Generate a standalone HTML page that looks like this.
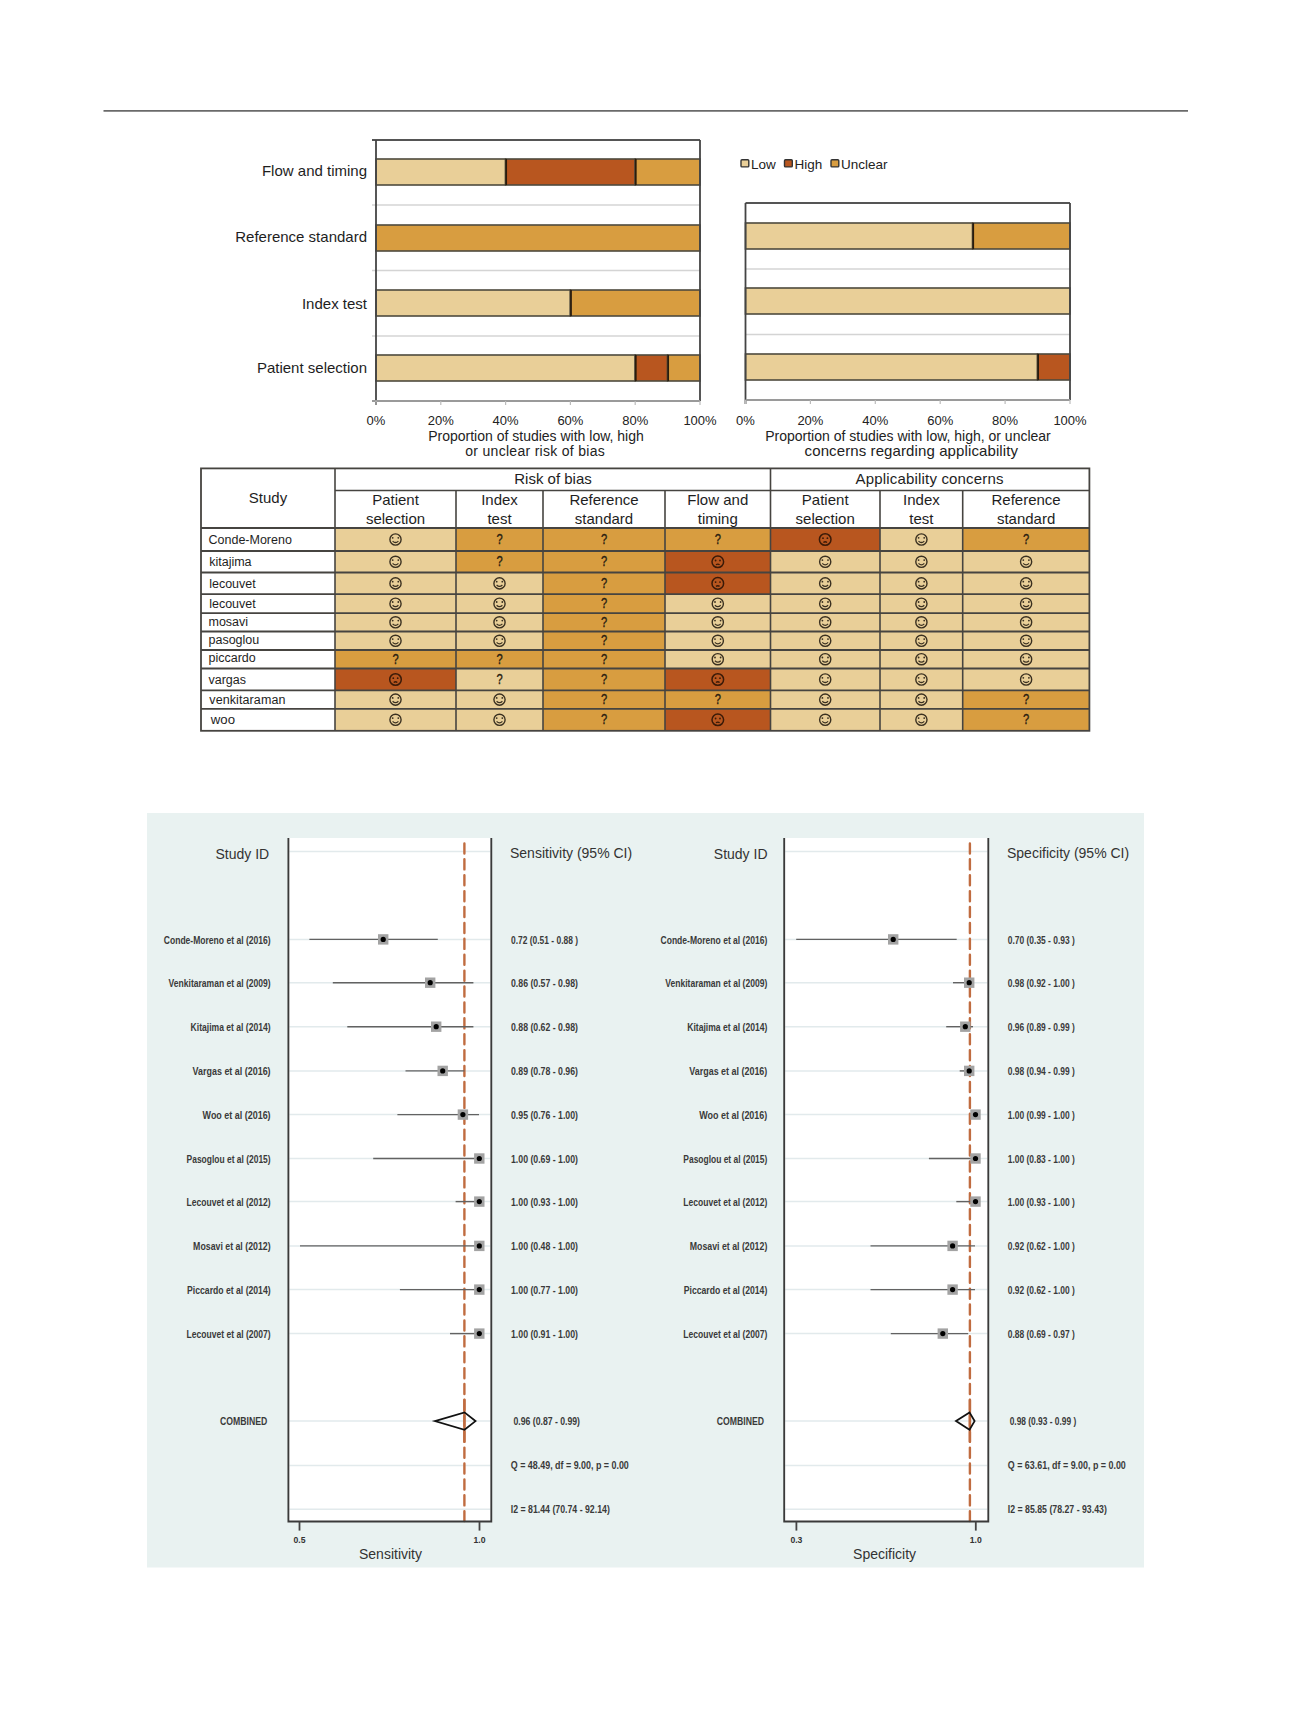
<!DOCTYPE html><html><head><meta charset="utf-8"><style>html,body{margin:0;padding:0;background:#fff;}svg{display:block}</style></head><body>
<svg width="1300" height="1734" viewBox="0 0 1300 1734" font-family="Liberation Sans, sans-serif">
<line x1="103.5" y1="110.9" x2="1188" y2="110.9" stroke="#6a6a6a" stroke-width="1.9"/>
<line x1="372" y1="205" x2="700" y2="205" stroke="#d4d4d4" stroke-width="1.6"/>
<line x1="372" y1="270.5" x2="700" y2="270.5" stroke="#d4d4d4" stroke-width="1.6"/>
<line x1="372" y1="336" x2="700" y2="336" stroke="#d4d4d4" stroke-width="1.6"/>
<rect x="376.00" y="159" width="129.60" height="26" fill="#e9cf98" stroke="#4e4a3e" stroke-width="1.6"/>
<rect x="505.60" y="159" width="129.60" height="26" fill="#b8561f" stroke="#4e4a3e" stroke-width="1.6"/>
<rect x="635.20" y="159" width="64.80" height="26" fill="#d89d40" stroke="#4e4a3e" stroke-width="1.6"/>
<line x1="506.20" y1="159" x2="506.20" y2="185" stroke="#2a1c0c" stroke-width="1.7"/>
<line x1="635.80" y1="159" x2="635.80" y2="185" stroke="#2a1c0c" stroke-width="1.7"/>
<rect x="376.00" y="225" width="324.00" height="26" fill="#d89d40" stroke="#4e4a3e" stroke-width="1.6"/>
<rect x="376.00" y="290" width="194.40" height="26" fill="#e9cf98" stroke="#4e4a3e" stroke-width="1.6"/>
<rect x="570.40" y="290" width="129.60" height="26" fill="#d89d40" stroke="#4e4a3e" stroke-width="1.6"/>
<line x1="571.00" y1="290" x2="571.00" y2="316" stroke="#2a1c0c" stroke-width="1.7"/>
<rect x="376.00" y="355" width="259.20" height="26" fill="#e9cf98" stroke="#4e4a3e" stroke-width="1.6"/>
<rect x="635.20" y="355" width="32.40" height="26" fill="#b8561f" stroke="#4e4a3e" stroke-width="1.6"/>
<rect x="667.60" y="355" width="32.40" height="26" fill="#d89d40" stroke="#4e4a3e" stroke-width="1.6"/>
<line x1="635.80" y1="355" x2="635.80" y2="381" stroke="#2a1c0c" stroke-width="1.7"/>
<line x1="668.20" y1="355" x2="668.20" y2="381" stroke="#2a1c0c" stroke-width="1.7"/>
<line x1="372" y1="140" x2="700" y2="140" stroke="#555" stroke-width="1.8"/>
<line x1="376" y1="140" x2="376" y2="405" stroke="#444" stroke-width="1.8"/>
<line x1="700" y1="140" x2="700" y2="401" stroke="#444" stroke-width="1.8"/>
<line x1="372" y1="401" x2="700" y2="401" stroke="#9a9a9a" stroke-width="1.8"/>
<line x1="376.00" y1="401" x2="376.00" y2="405" stroke="#bbb" stroke-width="1.2"/>
<text x="376.00" y="425" font-size="13" text-anchor="middle" fill="#222">0%</text>
<line x1="440.80" y1="401" x2="440.80" y2="405" stroke="#bbb" stroke-width="1.2"/>
<text x="440.80" y="425" font-size="13" text-anchor="middle" fill="#222">20%</text>
<line x1="505.60" y1="401" x2="505.60" y2="405" stroke="#bbb" stroke-width="1.2"/>
<text x="505.60" y="425" font-size="13" text-anchor="middle" fill="#222">40%</text>
<line x1="570.40" y1="401" x2="570.40" y2="405" stroke="#bbb" stroke-width="1.2"/>
<text x="570.40" y="425" font-size="13" text-anchor="middle" fill="#222">60%</text>
<line x1="635.20" y1="401" x2="635.20" y2="405" stroke="#bbb" stroke-width="1.2"/>
<text x="635.20" y="425" font-size="13" text-anchor="middle" fill="#222">80%</text>
<line x1="700.00" y1="401" x2="700.00" y2="405" stroke="#bbb" stroke-width="1.2"/>
<text x="700.00" y="425" font-size="13" text-anchor="middle" fill="#222">100%</text>
<text x="367" y="176.2" font-size="15" text-anchor="end" fill="#1e1e1e">Flow and timing</text>
<text x="367" y="242.3" font-size="15" text-anchor="end" fill="#1e1e1e">Reference standard</text>
<text x="367" y="308.5" font-size="15" text-anchor="end" fill="#1e1e1e">Index test</text>
<text x="367" y="373.2" font-size="15" text-anchor="end" fill="#1e1e1e">Patient selection</text>
<text x="536" y="441.3" font-size="14" text-anchor="middle" fill="#222">Proportion of studies with low, high</text>
<text x="535" y="456" font-size="14" text-anchor="middle" fill="#222" textLength="139.5" lengthAdjust="spacing">or unclear risk of bias</text>
<line x1="745.5" y1="269" x2="1070" y2="269" stroke="#d4d4d4" stroke-width="1.6"/>
<line x1="745.5" y1="334.5" x2="1070" y2="334.5" stroke="#d4d4d4" stroke-width="1.6"/>
<rect x="745.50" y="223" width="227.15" height="26" fill="#e9cf98" stroke="#4e4a3e" stroke-width="1.6"/>
<rect x="972.65" y="223" width="97.35" height="26" fill="#d89d40" stroke="#4e4a3e" stroke-width="1.6"/>
<line x1="973.25" y1="223" x2="973.25" y2="249" stroke="#2a1c0c" stroke-width="1.7"/>
<rect x="745.50" y="288" width="324.50" height="26" fill="#e9cf98" stroke="#4e4a3e" stroke-width="1.6"/>
<rect x="745.50" y="354" width="292.05" height="26" fill="#e9cf98" stroke="#4e4a3e" stroke-width="1.6"/>
<rect x="1037.55" y="354" width="32.45" height="26" fill="#b8561f" stroke="#4e4a3e" stroke-width="1.6"/>
<line x1="1038.15" y1="354" x2="1038.15" y2="380" stroke="#2a1c0c" stroke-width="1.7"/>
<line x1="745.5" y1="203" x2="1070" y2="203" stroke="#555" stroke-width="1.8"/>
<line x1="745.5" y1="203" x2="745.5" y2="404" stroke="#444" stroke-width="1.8"/>
<line x1="1070" y1="203" x2="1070" y2="400" stroke="#444" stroke-width="1.8"/>
<line x1="745.5" y1="400" x2="1070" y2="400" stroke="#9a9a9a" stroke-width="1.8"/>
<line x1="745.50" y1="400" x2="745.50" y2="404" stroke="#bbb" stroke-width="1.2"/>
<text x="745.50" y="425" font-size="13" text-anchor="middle" fill="#222">0%</text>
<line x1="810.40" y1="400" x2="810.40" y2="404" stroke="#bbb" stroke-width="1.2"/>
<text x="810.40" y="425" font-size="13" text-anchor="middle" fill="#222">20%</text>
<line x1="875.30" y1="400" x2="875.30" y2="404" stroke="#bbb" stroke-width="1.2"/>
<text x="875.30" y="425" font-size="13" text-anchor="middle" fill="#222">40%</text>
<line x1="940.20" y1="400" x2="940.20" y2="404" stroke="#bbb" stroke-width="1.2"/>
<text x="940.20" y="425" font-size="13" text-anchor="middle" fill="#222">60%</text>
<line x1="1005.10" y1="400" x2="1005.10" y2="404" stroke="#bbb" stroke-width="1.2"/>
<text x="1005.10" y="425" font-size="13" text-anchor="middle" fill="#222">80%</text>
<line x1="1070.00" y1="400" x2="1070.00" y2="404" stroke="#bbb" stroke-width="1.2"/>
<text x="1070.00" y="425" font-size="13" text-anchor="middle" fill="#222">100%</text>
<text x="908" y="441.3" font-size="14" text-anchor="middle" fill="#222">Proportion of studies with low, high, or unclear</text>
<text x="911.3" y="455.8" font-size="15" text-anchor="middle" fill="#222" textLength="213.4" lengthAdjust="spacing">concerns regarding applicability</text>
<rect x="741" y="159.7" width="7.8" height="7.2" rx="1" fill="#e9cf98" stroke="#333" stroke-width="1.4"/>
<text x="751" y="168.5" font-size="13.5" fill="#222">Low</text>
<rect x="784.5" y="159.7" width="7.8" height="7.2" rx="1" fill="#b8561f" stroke="#333" stroke-width="1.4"/>
<text x="794.5" y="168.5" font-size="13.5" fill="#222">High</text>
<rect x="831" y="159.7" width="7.8" height="7.2" rx="1" fill="#d89d40" stroke="#333" stroke-width="1.4"/>
<text x="841" y="168.5" font-size="13.5" fill="#222">Unclear</text>
<rect x="335" y="528" width="121.00" height="23.00" fill="#e9cf98"/>
<rect x="456" y="528" width="87.00" height="23.00" fill="#d89d40"/>
<rect x="543" y="528" width="122.00" height="23.00" fill="#d89d40"/>
<rect x="665" y="528" width="105.50" height="23.00" fill="#d89d40"/>
<rect x="770.5" y="528" width="109.50" height="23.00" fill="#b8561f"/>
<rect x="880" y="528" width="82.70" height="23.00" fill="#e9cf98"/>
<rect x="962.7" y="528" width="126.70" height="23.00" fill="#d89d40"/>
<rect x="335" y="551" width="121.00" height="21.50" fill="#e9cf98"/>
<rect x="456" y="551" width="87.00" height="21.50" fill="#d89d40"/>
<rect x="543" y="551" width="122.00" height="21.50" fill="#d89d40"/>
<rect x="665" y="551" width="105.50" height="21.50" fill="#b8561f"/>
<rect x="770.5" y="551" width="109.50" height="21.50" fill="#e9cf98"/>
<rect x="880" y="551" width="82.70" height="21.50" fill="#e9cf98"/>
<rect x="962.7" y="551" width="126.70" height="21.50" fill="#e9cf98"/>
<rect x="335" y="572.5" width="121.00" height="21.70" fill="#e9cf98"/>
<rect x="456" y="572.5" width="87.00" height="21.70" fill="#e9cf98"/>
<rect x="543" y="572.5" width="122.00" height="21.70" fill="#d89d40"/>
<rect x="665" y="572.5" width="105.50" height="21.70" fill="#b8561f"/>
<rect x="770.5" y="572.5" width="109.50" height="21.70" fill="#e9cf98"/>
<rect x="880" y="572.5" width="82.70" height="21.70" fill="#e9cf98"/>
<rect x="962.7" y="572.5" width="126.70" height="21.70" fill="#e9cf98"/>
<rect x="335" y="594.2" width="121.00" height="18.90" fill="#e9cf98"/>
<rect x="456" y="594.2" width="87.00" height="18.90" fill="#e9cf98"/>
<rect x="543" y="594.2" width="122.00" height="18.90" fill="#d89d40"/>
<rect x="665" y="594.2" width="105.50" height="18.90" fill="#e9cf98"/>
<rect x="770.5" y="594.2" width="109.50" height="18.90" fill="#e9cf98"/>
<rect x="880" y="594.2" width="82.70" height="18.90" fill="#e9cf98"/>
<rect x="962.7" y="594.2" width="126.70" height="18.90" fill="#e9cf98"/>
<rect x="335" y="613.1" width="121.00" height="18.40" fill="#e9cf98"/>
<rect x="456" y="613.1" width="87.00" height="18.40" fill="#e9cf98"/>
<rect x="543" y="613.1" width="122.00" height="18.40" fill="#d89d40"/>
<rect x="665" y="613.1" width="105.50" height="18.40" fill="#e9cf98"/>
<rect x="770.5" y="613.1" width="109.50" height="18.40" fill="#e9cf98"/>
<rect x="880" y="613.1" width="82.70" height="18.40" fill="#e9cf98"/>
<rect x="962.7" y="613.1" width="126.70" height="18.40" fill="#e9cf98"/>
<rect x="335" y="631.5" width="121.00" height="18.50" fill="#e9cf98"/>
<rect x="456" y="631.5" width="87.00" height="18.50" fill="#e9cf98"/>
<rect x="543" y="631.5" width="122.00" height="18.50" fill="#d89d40"/>
<rect x="665" y="631.5" width="105.50" height="18.50" fill="#e9cf98"/>
<rect x="770.5" y="631.5" width="109.50" height="18.50" fill="#e9cf98"/>
<rect x="880" y="631.5" width="82.70" height="18.50" fill="#e9cf98"/>
<rect x="962.7" y="631.5" width="126.70" height="18.50" fill="#e9cf98"/>
<rect x="335" y="650" width="121.00" height="18.50" fill="#d89d40"/>
<rect x="456" y="650" width="87.00" height="18.50" fill="#d89d40"/>
<rect x="543" y="650" width="122.00" height="18.50" fill="#d89d40"/>
<rect x="665" y="650" width="105.50" height="18.50" fill="#e9cf98"/>
<rect x="770.5" y="650" width="109.50" height="18.50" fill="#e9cf98"/>
<rect x="880" y="650" width="82.70" height="18.50" fill="#e9cf98"/>
<rect x="962.7" y="650" width="126.70" height="18.50" fill="#e9cf98"/>
<rect x="335" y="668.5" width="121.00" height="21.90" fill="#b8561f"/>
<rect x="456" y="668.5" width="87.00" height="21.90" fill="#e9cf98"/>
<rect x="543" y="668.5" width="122.00" height="21.90" fill="#d89d40"/>
<rect x="665" y="668.5" width="105.50" height="21.90" fill="#b8561f"/>
<rect x="770.5" y="668.5" width="109.50" height="21.90" fill="#e9cf98"/>
<rect x="880" y="668.5" width="82.70" height="21.90" fill="#e9cf98"/>
<rect x="962.7" y="668.5" width="126.70" height="21.90" fill="#e9cf98"/>
<rect x="335" y="690.4" width="121.00" height="18.40" fill="#e9cf98"/>
<rect x="456" y="690.4" width="87.00" height="18.40" fill="#e9cf98"/>
<rect x="543" y="690.4" width="122.00" height="18.40" fill="#d89d40"/>
<rect x="665" y="690.4" width="105.50" height="18.40" fill="#d89d40"/>
<rect x="770.5" y="690.4" width="109.50" height="18.40" fill="#e9cf98"/>
<rect x="880" y="690.4" width="82.70" height="18.40" fill="#e9cf98"/>
<rect x="962.7" y="690.4" width="126.70" height="18.40" fill="#d89d40"/>
<rect x="335" y="708.8" width="121.00" height="22.00" fill="#e9cf98"/>
<rect x="456" y="708.8" width="87.00" height="22.00" fill="#e9cf98"/>
<rect x="543" y="708.8" width="122.00" height="22.00" fill="#d89d40"/>
<rect x="665" y="708.8" width="105.50" height="22.00" fill="#b8561f"/>
<rect x="770.5" y="708.8" width="109.50" height="22.00" fill="#e9cf98"/>
<rect x="880" y="708.8" width="82.70" height="22.00" fill="#e9cf98"/>
<rect x="962.7" y="708.8" width="126.70" height="22.00" fill="#d89d40"/>
<rect x="201" y="468.4" width="888.4" height="262.4" fill="none" stroke="#464440" stroke-width="1.8"/>
<line x1="335" y1="490.5" x2="1089.4" y2="490.5" stroke="#464440" stroke-width="1.6"/>
<line x1="201" y1="528" x2="1089.4" y2="528" stroke="#464440" stroke-width="1.8"/>
<line x1="201" y1="551" x2="1089.4" y2="551" stroke="#464440" stroke-width="1.8"/>
<line x1="201" y1="572.5" x2="1089.4" y2="572.5" stroke="#464440" stroke-width="1.8"/>
<line x1="201" y1="594.2" x2="1089.4" y2="594.2" stroke="#464440" stroke-width="1.8"/>
<line x1="201" y1="613.1" x2="1089.4" y2="613.1" stroke="#464440" stroke-width="1.8"/>
<line x1="201" y1="631.5" x2="1089.4" y2="631.5" stroke="#464440" stroke-width="1.8"/>
<line x1="201" y1="650" x2="1089.4" y2="650" stroke="#464440" stroke-width="1.8"/>
<line x1="201" y1="668.5" x2="1089.4" y2="668.5" stroke="#464440" stroke-width="1.8"/>
<line x1="201" y1="690.4" x2="1089.4" y2="690.4" stroke="#464440" stroke-width="1.8"/>
<line x1="201" y1="708.8" x2="1089.4" y2="708.8" stroke="#464440" stroke-width="1.8"/>
<line x1="335" y1="468.4" x2="335" y2="730.8" stroke="#464440" stroke-width="1.6"/>
<line x1="456" y1="490.5" x2="456" y2="730.8" stroke="#464440" stroke-width="1.6"/>
<line x1="543" y1="490.5" x2="543" y2="730.8" stroke="#464440" stroke-width="1.6"/>
<line x1="665" y1="490.5" x2="665" y2="730.8" stroke="#464440" stroke-width="1.6"/>
<line x1="770.5" y1="468.4" x2="770.5" y2="730.8" stroke="#464440" stroke-width="1.6"/>
<line x1="880" y1="490.5" x2="880" y2="730.8" stroke="#464440" stroke-width="1.6"/>
<line x1="962.7" y1="490.5" x2="962.7" y2="730.8" stroke="#464440" stroke-width="1.6"/>
<text x="268" y="502.5" font-size="15" text-anchor="middle" fill="#1e1e1e">Study</text>
<text x="553" y="484.4" font-size="15" text-anchor="middle" fill="#1e1e1e">Risk of bias</text>
<text x="929.5" y="484.4" font-size="15" text-anchor="middle" fill="#1e1e1e" textLength="148" lengthAdjust="spacing">Applicability concerns</text>
<text x="395.5" y="504.7" font-size="15" text-anchor="middle" fill="#1e1e1e">Patient</text>
<text x="395.5" y="523.7" font-size="15" text-anchor="middle" fill="#1e1e1e">selection</text>
<text x="499.5" y="504.7" font-size="15" text-anchor="middle" fill="#1e1e1e">Index</text>
<text x="499.5" y="523.7" font-size="15" text-anchor="middle" fill="#1e1e1e">test</text>
<text x="604.0" y="504.7" font-size="15" text-anchor="middle" fill="#1e1e1e">Reference</text>
<text x="604.0" y="523.7" font-size="15" text-anchor="middle" fill="#1e1e1e">standard</text>
<text x="717.8" y="504.7" font-size="15" text-anchor="middle" fill="#1e1e1e">Flow and</text>
<text x="717.8" y="523.7" font-size="15" text-anchor="middle" fill="#1e1e1e">timing</text>
<text x="825.2" y="504.7" font-size="15" text-anchor="middle" fill="#1e1e1e">Patient</text>
<text x="825.2" y="523.7" font-size="15" text-anchor="middle" fill="#1e1e1e">selection</text>
<text x="921.4" y="504.7" font-size="15" text-anchor="middle" fill="#1e1e1e">Index</text>
<text x="921.4" y="523.7" font-size="15" text-anchor="middle" fill="#1e1e1e">test</text>
<text x="1026.1" y="504.7" font-size="15" text-anchor="middle" fill="#1e1e1e">Reference</text>
<text x="1026.1" y="523.7" font-size="15" text-anchor="middle" fill="#1e1e1e">standard</text>
<text x="208.5" y="543.5" font-size="12.5" fill="#1e1e1e">Conde-Moreno</text>
<g transform="translate(395.5,539.5)"><circle r="5.6" fill="none" stroke="#3a3020" stroke-width="1.4"/><circle cx="-2.8" cy="-1.7" r="0.9" fill="#3a3020"/><circle cx="2.8" cy="-1.7" r="0.9" fill="#3a3020"/><path d="M-2.9 1.6 Q0 4.4 2.9 1.6" fill="none" stroke="#3a3020" stroke-width="1.2"/></g>
<text x="499.5" y="543.8" font-size="14" text-anchor="middle" fill="#2a2010" stroke="#2a2010" stroke-width="0.35" textLength="6.2" lengthAdjust="spacingAndGlyphs">?</text>
<text x="604.0" y="543.8" font-size="14" text-anchor="middle" fill="#2a2010" stroke="#2a2010" stroke-width="0.35" textLength="6.2" lengthAdjust="spacingAndGlyphs">?</text>
<text x="717.8" y="543.8" font-size="14" text-anchor="middle" fill="#2a2010" stroke="#2a2010" stroke-width="0.35" textLength="6.2" lengthAdjust="spacingAndGlyphs">?</text>
<g transform="translate(825.2,539.5)"><circle r="5.8" fill="none" stroke="#3a1a08" stroke-width="1.5"/><circle cx="-2.2" cy="-1.3" r="0.9" fill="#3a1a08"/><circle cx="2.2" cy="-1.3" r="0.9" fill="#3a1a08"/><path d="M-1.8 3 Q0 1.6 1.8 3" fill="none" stroke="#3a1a08" stroke-width="1.4"/></g>
<g transform="translate(921.4,539.5)"><circle r="5.6" fill="none" stroke="#3a3020" stroke-width="1.4"/><circle cx="-2.8" cy="-1.7" r="0.9" fill="#3a3020"/><circle cx="2.8" cy="-1.7" r="0.9" fill="#3a3020"/><path d="M-2.9 1.6 Q0 4.4 2.9 1.6" fill="none" stroke="#3a3020" stroke-width="1.2"/></g>
<text x="1026.1" y="543.8" font-size="14" text-anchor="middle" fill="#2a2010" stroke="#2a2010" stroke-width="0.35" textLength="6.2" lengthAdjust="spacingAndGlyphs">?</text>
<text x="209.2" y="565.8" font-size="12.5" fill="#1e1e1e">kitajima</text>
<g transform="translate(395.5,561.8)"><circle r="5.6" fill="none" stroke="#3a3020" stroke-width="1.4"/><circle cx="-2.8" cy="-1.7" r="0.9" fill="#3a3020"/><circle cx="2.8" cy="-1.7" r="0.9" fill="#3a3020"/><path d="M-2.9 1.6 Q0 4.4 2.9 1.6" fill="none" stroke="#3a3020" stroke-width="1.2"/></g>
<text x="499.5" y="566.0" font-size="14" text-anchor="middle" fill="#2a2010" stroke="#2a2010" stroke-width="0.35" textLength="6.2" lengthAdjust="spacingAndGlyphs">?</text>
<text x="604.0" y="566.0" font-size="14" text-anchor="middle" fill="#2a2010" stroke="#2a2010" stroke-width="0.35" textLength="6.2" lengthAdjust="spacingAndGlyphs">?</text>
<g transform="translate(717.8,561.8)"><circle r="5.8" fill="none" stroke="#3a1a08" stroke-width="1.5"/><circle cx="-2.2" cy="-1.3" r="0.9" fill="#3a1a08"/><circle cx="2.2" cy="-1.3" r="0.9" fill="#3a1a08"/><path d="M-1.8 3 Q0 1.6 1.8 3" fill="none" stroke="#3a1a08" stroke-width="1.4"/></g>
<g transform="translate(825.2,561.8)"><circle r="5.6" fill="none" stroke="#3a3020" stroke-width="1.4"/><circle cx="-2.8" cy="-1.7" r="0.9" fill="#3a3020"/><circle cx="2.8" cy="-1.7" r="0.9" fill="#3a3020"/><path d="M-2.9 1.6 Q0 4.4 2.9 1.6" fill="none" stroke="#3a3020" stroke-width="1.2"/></g>
<g transform="translate(921.4,561.8)"><circle r="5.6" fill="none" stroke="#3a3020" stroke-width="1.4"/><circle cx="-2.8" cy="-1.7" r="0.9" fill="#3a3020"/><circle cx="2.8" cy="-1.7" r="0.9" fill="#3a3020"/><path d="M-2.9 1.6 Q0 4.4 2.9 1.6" fill="none" stroke="#3a3020" stroke-width="1.2"/></g>
<g transform="translate(1026.1,561.8)"><circle r="5.6" fill="none" stroke="#3a3020" stroke-width="1.4"/><circle cx="-2.8" cy="-1.7" r="0.9" fill="#3a3020"/><circle cx="2.8" cy="-1.7" r="0.9" fill="#3a3020"/><path d="M-2.9 1.6 Q0 4.4 2.9 1.6" fill="none" stroke="#3a3020" stroke-width="1.2"/></g>
<text x="209.2" y="587.7" font-size="12.5" fill="#1e1e1e">lecouvet</text>
<g transform="translate(395.5,583.4)"><circle r="5.6" fill="none" stroke="#3a3020" stroke-width="1.4"/><circle cx="-2.8" cy="-1.7" r="0.9" fill="#3a3020"/><circle cx="2.8" cy="-1.7" r="0.9" fill="#3a3020"/><path d="M-2.9 1.6 Q0 4.4 2.9 1.6" fill="none" stroke="#3a3020" stroke-width="1.2"/></g>
<g transform="translate(499.5,583.4)"><circle r="5.6" fill="none" stroke="#3a3020" stroke-width="1.4"/><circle cx="-2.8" cy="-1.7" r="0.9" fill="#3a3020"/><circle cx="2.8" cy="-1.7" r="0.9" fill="#3a3020"/><path d="M-2.9 1.6 Q0 4.4 2.9 1.6" fill="none" stroke="#3a3020" stroke-width="1.2"/></g>
<text x="604.0" y="587.6" font-size="14" text-anchor="middle" fill="#2a2010" stroke="#2a2010" stroke-width="0.35" textLength="6.2" lengthAdjust="spacingAndGlyphs">?</text>
<g transform="translate(717.8,583.4)"><circle r="5.8" fill="none" stroke="#3a1a08" stroke-width="1.5"/><circle cx="-2.2" cy="-1.3" r="0.9" fill="#3a1a08"/><circle cx="2.2" cy="-1.3" r="0.9" fill="#3a1a08"/><path d="M-1.8 3 Q0 1.6 1.8 3" fill="none" stroke="#3a1a08" stroke-width="1.4"/></g>
<g transform="translate(825.2,583.4)"><circle r="5.6" fill="none" stroke="#3a3020" stroke-width="1.4"/><circle cx="-2.8" cy="-1.7" r="0.9" fill="#3a3020"/><circle cx="2.8" cy="-1.7" r="0.9" fill="#3a3020"/><path d="M-2.9 1.6 Q0 4.4 2.9 1.6" fill="none" stroke="#3a3020" stroke-width="1.2"/></g>
<g transform="translate(921.4,583.4)"><circle r="5.6" fill="none" stroke="#3a3020" stroke-width="1.4"/><circle cx="-2.8" cy="-1.7" r="0.9" fill="#3a3020"/><circle cx="2.8" cy="-1.7" r="0.9" fill="#3a3020"/><path d="M-2.9 1.6 Q0 4.4 2.9 1.6" fill="none" stroke="#3a3020" stroke-width="1.2"/></g>
<g transform="translate(1026.1,583.4)"><circle r="5.6" fill="none" stroke="#3a3020" stroke-width="1.4"/><circle cx="-2.8" cy="-1.7" r="0.9" fill="#3a3020"/><circle cx="2.8" cy="-1.7" r="0.9" fill="#3a3020"/><path d="M-2.9 1.6 Q0 4.4 2.9 1.6" fill="none" stroke="#3a3020" stroke-width="1.2"/></g>
<text x="209.2" y="607.7" font-size="12.5" fill="#1e1e1e">lecouvet</text>
<g transform="translate(395.5,603.7)"><circle r="5.6" fill="none" stroke="#3a3020" stroke-width="1.4"/><circle cx="-2.8" cy="-1.7" r="0.9" fill="#3a3020"/><circle cx="2.8" cy="-1.7" r="0.9" fill="#3a3020"/><path d="M-2.9 1.6 Q0 4.4 2.9 1.6" fill="none" stroke="#3a3020" stroke-width="1.2"/></g>
<g transform="translate(499.5,603.7)"><circle r="5.6" fill="none" stroke="#3a3020" stroke-width="1.4"/><circle cx="-2.8" cy="-1.7" r="0.9" fill="#3a3020"/><circle cx="2.8" cy="-1.7" r="0.9" fill="#3a3020"/><path d="M-2.9 1.6 Q0 4.4 2.9 1.6" fill="none" stroke="#3a3020" stroke-width="1.2"/></g>
<text x="604.0" y="608.0" font-size="14" text-anchor="middle" fill="#2a2010" stroke="#2a2010" stroke-width="0.35" textLength="6.2" lengthAdjust="spacingAndGlyphs">?</text>
<g transform="translate(717.8,603.7)"><circle r="5.6" fill="none" stroke="#3a3020" stroke-width="1.4"/><circle cx="-2.8" cy="-1.7" r="0.9" fill="#3a3020"/><circle cx="2.8" cy="-1.7" r="0.9" fill="#3a3020"/><path d="M-2.9 1.6 Q0 4.4 2.9 1.6" fill="none" stroke="#3a3020" stroke-width="1.2"/></g>
<g transform="translate(825.2,603.7)"><circle r="5.6" fill="none" stroke="#3a3020" stroke-width="1.4"/><circle cx="-2.8" cy="-1.7" r="0.9" fill="#3a3020"/><circle cx="2.8" cy="-1.7" r="0.9" fill="#3a3020"/><path d="M-2.9 1.6 Q0 4.4 2.9 1.6" fill="none" stroke="#3a3020" stroke-width="1.2"/></g>
<g transform="translate(921.4,603.7)"><circle r="5.6" fill="none" stroke="#3a3020" stroke-width="1.4"/><circle cx="-2.8" cy="-1.7" r="0.9" fill="#3a3020"/><circle cx="2.8" cy="-1.7" r="0.9" fill="#3a3020"/><path d="M-2.9 1.6 Q0 4.4 2.9 1.6" fill="none" stroke="#3a3020" stroke-width="1.2"/></g>
<g transform="translate(1026.1,603.7)"><circle r="5.6" fill="none" stroke="#3a3020" stroke-width="1.4"/><circle cx="-2.8" cy="-1.7" r="0.9" fill="#3a3020"/><circle cx="2.8" cy="-1.7" r="0.9" fill="#3a3020"/><path d="M-2.9 1.6 Q0 4.4 2.9 1.6" fill="none" stroke="#3a3020" stroke-width="1.2"/></g>
<text x="208.5" y="626.2" font-size="12.5" fill="#1e1e1e">mosavi</text>
<g transform="translate(395.5,622.3)"><circle r="5.6" fill="none" stroke="#3a3020" stroke-width="1.4"/><circle cx="-2.8" cy="-1.7" r="0.9" fill="#3a3020"/><circle cx="2.8" cy="-1.7" r="0.9" fill="#3a3020"/><path d="M-2.9 1.6 Q0 4.4 2.9 1.6" fill="none" stroke="#3a3020" stroke-width="1.2"/></g>
<g transform="translate(499.5,622.3)"><circle r="5.6" fill="none" stroke="#3a3020" stroke-width="1.4"/><circle cx="-2.8" cy="-1.7" r="0.9" fill="#3a3020"/><circle cx="2.8" cy="-1.7" r="0.9" fill="#3a3020"/><path d="M-2.9 1.6 Q0 4.4 2.9 1.6" fill="none" stroke="#3a3020" stroke-width="1.2"/></g>
<text x="604.0" y="626.6" font-size="14" text-anchor="middle" fill="#2a2010" stroke="#2a2010" stroke-width="0.35" textLength="6.2" lengthAdjust="spacingAndGlyphs">?</text>
<g transform="translate(717.8,622.3)"><circle r="5.6" fill="none" stroke="#3a3020" stroke-width="1.4"/><circle cx="-2.8" cy="-1.7" r="0.9" fill="#3a3020"/><circle cx="2.8" cy="-1.7" r="0.9" fill="#3a3020"/><path d="M-2.9 1.6 Q0 4.4 2.9 1.6" fill="none" stroke="#3a3020" stroke-width="1.2"/></g>
<g transform="translate(825.2,622.3)"><circle r="5.6" fill="none" stroke="#3a3020" stroke-width="1.4"/><circle cx="-2.8" cy="-1.7" r="0.9" fill="#3a3020"/><circle cx="2.8" cy="-1.7" r="0.9" fill="#3a3020"/><path d="M-2.9 1.6 Q0 4.4 2.9 1.6" fill="none" stroke="#3a3020" stroke-width="1.2"/></g>
<g transform="translate(921.4,622.3)"><circle r="5.6" fill="none" stroke="#3a3020" stroke-width="1.4"/><circle cx="-2.8" cy="-1.7" r="0.9" fill="#3a3020"/><circle cx="2.8" cy="-1.7" r="0.9" fill="#3a3020"/><path d="M-2.9 1.6 Q0 4.4 2.9 1.6" fill="none" stroke="#3a3020" stroke-width="1.2"/></g>
<g transform="translate(1026.1,622.3)"><circle r="5.6" fill="none" stroke="#3a3020" stroke-width="1.4"/><circle cx="-2.8" cy="-1.7" r="0.9" fill="#3a3020"/><circle cx="2.8" cy="-1.7" r="0.9" fill="#3a3020"/><path d="M-2.9 1.6 Q0 4.4 2.9 1.6" fill="none" stroke="#3a3020" stroke-width="1.2"/></g>
<text x="208.5" y="644.2" font-size="12.5" fill="#1e1e1e">pasoglou</text>
<g transform="translate(395.5,640.8)"><circle r="5.6" fill="none" stroke="#3a3020" stroke-width="1.4"/><circle cx="-2.8" cy="-1.7" r="0.9" fill="#3a3020"/><circle cx="2.8" cy="-1.7" r="0.9" fill="#3a3020"/><path d="M-2.9 1.6 Q0 4.4 2.9 1.6" fill="none" stroke="#3a3020" stroke-width="1.2"/></g>
<g transform="translate(499.5,640.8)"><circle r="5.6" fill="none" stroke="#3a3020" stroke-width="1.4"/><circle cx="-2.8" cy="-1.7" r="0.9" fill="#3a3020"/><circle cx="2.8" cy="-1.7" r="0.9" fill="#3a3020"/><path d="M-2.9 1.6 Q0 4.4 2.9 1.6" fill="none" stroke="#3a3020" stroke-width="1.2"/></g>
<text x="604.0" y="645.0" font-size="14" text-anchor="middle" fill="#2a2010" stroke="#2a2010" stroke-width="0.35" textLength="6.2" lengthAdjust="spacingAndGlyphs">?</text>
<g transform="translate(717.8,640.8)"><circle r="5.6" fill="none" stroke="#3a3020" stroke-width="1.4"/><circle cx="-2.8" cy="-1.7" r="0.9" fill="#3a3020"/><circle cx="2.8" cy="-1.7" r="0.9" fill="#3a3020"/><path d="M-2.9 1.6 Q0 4.4 2.9 1.6" fill="none" stroke="#3a3020" stroke-width="1.2"/></g>
<g transform="translate(825.2,640.8)"><circle r="5.6" fill="none" stroke="#3a3020" stroke-width="1.4"/><circle cx="-2.8" cy="-1.7" r="0.9" fill="#3a3020"/><circle cx="2.8" cy="-1.7" r="0.9" fill="#3a3020"/><path d="M-2.9 1.6 Q0 4.4 2.9 1.6" fill="none" stroke="#3a3020" stroke-width="1.2"/></g>
<g transform="translate(921.4,640.8)"><circle r="5.6" fill="none" stroke="#3a3020" stroke-width="1.4"/><circle cx="-2.8" cy="-1.7" r="0.9" fill="#3a3020"/><circle cx="2.8" cy="-1.7" r="0.9" fill="#3a3020"/><path d="M-2.9 1.6 Q0 4.4 2.9 1.6" fill="none" stroke="#3a3020" stroke-width="1.2"/></g>
<g transform="translate(1026.1,640.8)"><circle r="5.6" fill="none" stroke="#3a3020" stroke-width="1.4"/><circle cx="-2.8" cy="-1.7" r="0.9" fill="#3a3020"/><circle cx="2.8" cy="-1.7" r="0.9" fill="#3a3020"/><path d="M-2.9 1.6 Q0 4.4 2.9 1.6" fill="none" stroke="#3a3020" stroke-width="1.2"/></g>
<text x="208.5" y="662.3" font-size="12.5" fill="#1e1e1e">piccardo</text>
<text x="395.5" y="663.5" font-size="14" text-anchor="middle" fill="#2a2010" stroke="#2a2010" stroke-width="0.35" textLength="6.2" lengthAdjust="spacingAndGlyphs">?</text>
<text x="499.5" y="663.5" font-size="14" text-anchor="middle" fill="#2a2010" stroke="#2a2010" stroke-width="0.35" textLength="6.2" lengthAdjust="spacingAndGlyphs">?</text>
<text x="604.0" y="663.5" font-size="14" text-anchor="middle" fill="#2a2010" stroke="#2a2010" stroke-width="0.35" textLength="6.2" lengthAdjust="spacingAndGlyphs">?</text>
<g transform="translate(717.8,659.2)"><circle r="5.6" fill="none" stroke="#3a3020" stroke-width="1.4"/><circle cx="-2.8" cy="-1.7" r="0.9" fill="#3a3020"/><circle cx="2.8" cy="-1.7" r="0.9" fill="#3a3020"/><path d="M-2.9 1.6 Q0 4.4 2.9 1.6" fill="none" stroke="#3a3020" stroke-width="1.2"/></g>
<g transform="translate(825.2,659.2)"><circle r="5.6" fill="none" stroke="#3a3020" stroke-width="1.4"/><circle cx="-2.8" cy="-1.7" r="0.9" fill="#3a3020"/><circle cx="2.8" cy="-1.7" r="0.9" fill="#3a3020"/><path d="M-2.9 1.6 Q0 4.4 2.9 1.6" fill="none" stroke="#3a3020" stroke-width="1.2"/></g>
<g transform="translate(921.4,659.2)"><circle r="5.6" fill="none" stroke="#3a3020" stroke-width="1.4"/><circle cx="-2.8" cy="-1.7" r="0.9" fill="#3a3020"/><circle cx="2.8" cy="-1.7" r="0.9" fill="#3a3020"/><path d="M-2.9 1.6 Q0 4.4 2.9 1.6" fill="none" stroke="#3a3020" stroke-width="1.2"/></g>
<g transform="translate(1026.1,659.2)"><circle r="5.6" fill="none" stroke="#3a3020" stroke-width="1.4"/><circle cx="-2.8" cy="-1.7" r="0.9" fill="#3a3020"/><circle cx="2.8" cy="-1.7" r="0.9" fill="#3a3020"/><path d="M-2.9 1.6 Q0 4.4 2.9 1.6" fill="none" stroke="#3a3020" stroke-width="1.2"/></g>
<text x="208.5" y="683.5" font-size="12.5" fill="#1e1e1e">vargas</text>
<g transform="translate(395.5,679.5)"><circle r="5.8" fill="none" stroke="#3a1a08" stroke-width="1.5"/><circle cx="-2.2" cy="-1.3" r="0.9" fill="#3a1a08"/><circle cx="2.2" cy="-1.3" r="0.9" fill="#3a1a08"/><path d="M-1.8 3 Q0 1.6 1.8 3" fill="none" stroke="#3a1a08" stroke-width="1.4"/></g>
<text x="499.5" y="683.8" font-size="14" text-anchor="middle" fill="#2a2010" stroke="#2a2010" stroke-width="0.35" textLength="6.2" lengthAdjust="spacingAndGlyphs">?</text>
<text x="604.0" y="683.8" font-size="14" text-anchor="middle" fill="#2a2010" stroke="#2a2010" stroke-width="0.35" textLength="6.2" lengthAdjust="spacingAndGlyphs">?</text>
<g transform="translate(717.8,679.5)"><circle r="5.8" fill="none" stroke="#3a1a08" stroke-width="1.5"/><circle cx="-2.2" cy="-1.3" r="0.9" fill="#3a1a08"/><circle cx="2.2" cy="-1.3" r="0.9" fill="#3a1a08"/><path d="M-1.8 3 Q0 1.6 1.8 3" fill="none" stroke="#3a1a08" stroke-width="1.4"/></g>
<g transform="translate(825.2,679.5)"><circle r="5.6" fill="none" stroke="#3a3020" stroke-width="1.4"/><circle cx="-2.8" cy="-1.7" r="0.9" fill="#3a3020"/><circle cx="2.8" cy="-1.7" r="0.9" fill="#3a3020"/><path d="M-2.9 1.6 Q0 4.4 2.9 1.6" fill="none" stroke="#3a3020" stroke-width="1.2"/></g>
<g transform="translate(921.4,679.5)"><circle r="5.6" fill="none" stroke="#3a3020" stroke-width="1.4"/><circle cx="-2.8" cy="-1.7" r="0.9" fill="#3a3020"/><circle cx="2.8" cy="-1.7" r="0.9" fill="#3a3020"/><path d="M-2.9 1.6 Q0 4.4 2.9 1.6" fill="none" stroke="#3a3020" stroke-width="1.2"/></g>
<g transform="translate(1026.1,679.5)"><circle r="5.6" fill="none" stroke="#3a3020" stroke-width="1.4"/><circle cx="-2.8" cy="-1.7" r="0.9" fill="#3a3020"/><circle cx="2.8" cy="-1.7" r="0.9" fill="#3a3020"/><path d="M-2.9 1.6 Q0 4.4 2.9 1.6" fill="none" stroke="#3a3020" stroke-width="1.2"/></g>
<text x="209.3" y="703.5" font-size="12.5" fill="#1e1e1e" textLength="76.1" lengthAdjust="spacing">venkitaraman</text>
<g transform="translate(395.5,699.6)"><circle r="5.6" fill="none" stroke="#3a3020" stroke-width="1.4"/><circle cx="-2.8" cy="-1.7" r="0.9" fill="#3a3020"/><circle cx="2.8" cy="-1.7" r="0.9" fill="#3a3020"/><path d="M-2.9 1.6 Q0 4.4 2.9 1.6" fill="none" stroke="#3a3020" stroke-width="1.2"/></g>
<g transform="translate(499.5,699.6)"><circle r="5.6" fill="none" stroke="#3a3020" stroke-width="1.4"/><circle cx="-2.8" cy="-1.7" r="0.9" fill="#3a3020"/><circle cx="2.8" cy="-1.7" r="0.9" fill="#3a3020"/><path d="M-2.9 1.6 Q0 4.4 2.9 1.6" fill="none" stroke="#3a3020" stroke-width="1.2"/></g>
<text x="604.0" y="703.9" font-size="14" text-anchor="middle" fill="#2a2010" stroke="#2a2010" stroke-width="0.35" textLength="6.2" lengthAdjust="spacingAndGlyphs">?</text>
<text x="717.8" y="703.9" font-size="14" text-anchor="middle" fill="#2a2010" stroke="#2a2010" stroke-width="0.35" textLength="6.2" lengthAdjust="spacingAndGlyphs">?</text>
<g transform="translate(825.2,699.6)"><circle r="5.6" fill="none" stroke="#3a3020" stroke-width="1.4"/><circle cx="-2.8" cy="-1.7" r="0.9" fill="#3a3020"/><circle cx="2.8" cy="-1.7" r="0.9" fill="#3a3020"/><path d="M-2.9 1.6 Q0 4.4 2.9 1.6" fill="none" stroke="#3a3020" stroke-width="1.2"/></g>
<g transform="translate(921.4,699.6)"><circle r="5.6" fill="none" stroke="#3a3020" stroke-width="1.4"/><circle cx="-2.8" cy="-1.7" r="0.9" fill="#3a3020"/><circle cx="2.8" cy="-1.7" r="0.9" fill="#3a3020"/><path d="M-2.9 1.6 Q0 4.4 2.9 1.6" fill="none" stroke="#3a3020" stroke-width="1.2"/></g>
<text x="1026.1" y="703.9" font-size="14" text-anchor="middle" fill="#2a2010" stroke="#2a2010" stroke-width="0.35" textLength="6.2" lengthAdjust="spacingAndGlyphs">?</text>
<text x="210.8" y="723.8" font-size="12.5" fill="#1e1e1e" textLength="24.2" lengthAdjust="spacingAndGlyphs">woo</text>
<g transform="translate(395.5,719.8)"><circle r="5.6" fill="none" stroke="#3a3020" stroke-width="1.4"/><circle cx="-2.8" cy="-1.7" r="0.9" fill="#3a3020"/><circle cx="2.8" cy="-1.7" r="0.9" fill="#3a3020"/><path d="M-2.9 1.6 Q0 4.4 2.9 1.6" fill="none" stroke="#3a3020" stroke-width="1.2"/></g>
<g transform="translate(499.5,719.8)"><circle r="5.6" fill="none" stroke="#3a3020" stroke-width="1.4"/><circle cx="-2.8" cy="-1.7" r="0.9" fill="#3a3020"/><circle cx="2.8" cy="-1.7" r="0.9" fill="#3a3020"/><path d="M-2.9 1.6 Q0 4.4 2.9 1.6" fill="none" stroke="#3a3020" stroke-width="1.2"/></g>
<text x="604.0" y="724.1" font-size="14" text-anchor="middle" fill="#2a2010" stroke="#2a2010" stroke-width="0.35" textLength="6.2" lengthAdjust="spacingAndGlyphs">?</text>
<g transform="translate(717.8,719.8)"><circle r="5.8" fill="none" stroke="#3a1a08" stroke-width="1.5"/><circle cx="-2.2" cy="-1.3" r="0.9" fill="#3a1a08"/><circle cx="2.2" cy="-1.3" r="0.9" fill="#3a1a08"/><path d="M-1.8 3 Q0 1.6 1.8 3" fill="none" stroke="#3a1a08" stroke-width="1.4"/></g>
<g transform="translate(825.2,719.8)"><circle r="5.6" fill="none" stroke="#3a3020" stroke-width="1.4"/><circle cx="-2.8" cy="-1.7" r="0.9" fill="#3a3020"/><circle cx="2.8" cy="-1.7" r="0.9" fill="#3a3020"/><path d="M-2.9 1.6 Q0 4.4 2.9 1.6" fill="none" stroke="#3a3020" stroke-width="1.2"/></g>
<g transform="translate(921.4,719.8)"><circle r="5.6" fill="none" stroke="#3a3020" stroke-width="1.4"/><circle cx="-2.8" cy="-1.7" r="0.9" fill="#3a3020"/><circle cx="2.8" cy="-1.7" r="0.9" fill="#3a3020"/><path d="M-2.9 1.6 Q0 4.4 2.9 1.6" fill="none" stroke="#3a3020" stroke-width="1.2"/></g>
<text x="1026.1" y="724.1" font-size="14" text-anchor="middle" fill="#2a2010" stroke="#2a2010" stroke-width="0.35" textLength="6.2" lengthAdjust="spacingAndGlyphs">?</text>
<rect x="147" y="813" width="997" height="754.5" fill="#e9f2f1"/>
<rect x="288.4" y="838" width="202.90000000000003" height="683.5" fill="#fff"/>
<line x1="289.4" y1="851.5" x2="490.3" y2="851.5" stroke="#e2eaec" stroke-width="1.5"/>
<line x1="289.4" y1="939.4" x2="490.3" y2="939.4" stroke="#e2eaec" stroke-width="1.5"/>
<line x1="289.4" y1="982.7" x2="490.3" y2="982.7" stroke="#e2eaec" stroke-width="1.5"/>
<line x1="289.4" y1="1026.7" x2="490.3" y2="1026.7" stroke="#e2eaec" stroke-width="1.5"/>
<line x1="289.4" y1="1070.9" x2="490.3" y2="1070.9" stroke="#e2eaec" stroke-width="1.5"/>
<line x1="289.4" y1="1114.6" x2="490.3" y2="1114.6" stroke="#e2eaec" stroke-width="1.5"/>
<line x1="289.4" y1="1158.5" x2="490.3" y2="1158.5" stroke="#e2eaec" stroke-width="1.5"/>
<line x1="289.4" y1="1201.6" x2="490.3" y2="1201.6" stroke="#e2eaec" stroke-width="1.5"/>
<line x1="289.4" y1="1245.9" x2="490.3" y2="1245.9" stroke="#e2eaec" stroke-width="1.5"/>
<line x1="289.4" y1="1289.6" x2="490.3" y2="1289.6" stroke="#e2eaec" stroke-width="1.5"/>
<line x1="289.4" y1="1333.6" x2="490.3" y2="1333.6" stroke="#e2eaec" stroke-width="1.5"/>
<line x1="289.4" y1="1421.1" x2="490.3" y2="1421.1" stroke="#e2eaec" stroke-width="1.5"/>
<line x1="289.4" y1="1465.4" x2="490.3" y2="1465.4" stroke="#e2eaec" stroke-width="1.5"/>
<line x1="289.4" y1="1509.2" x2="490.3" y2="1509.2" stroke="#e2eaec" stroke-width="1.5"/>
<line x1="464.4" y1="842" x2="464.4" y2="1521" stroke="#c06c40" stroke-width="2.4" stroke-dasharray="10.1 5.8" stroke-linecap="round" stroke-dashoffset="-1.4"/>
<line x1="464.4" y1="1399.7" x2="464.4" y2="1441.7" stroke="#c06c40" stroke-width="2.4" stroke-linecap="round"/>
<line x1="309.4" y1="939.4" x2="437.8" y2="939.4" stroke="#626262" stroke-width="1.4"/>
<rect x="378.0" y="934.1999999999999" width="10.4" height="10.4" fill="#a3a3a3"/>
<circle cx="383.2" cy="939.4" r="2.6" fill="#000"/>
<line x1="332.8" y1="982.7" x2="473.4" y2="982.7" stroke="#626262" stroke-width="1.4"/>
<rect x="425.0" y="977.5" width="10.4" height="10.4" fill="#a3a3a3"/>
<circle cx="430.2" cy="982.7" r="2.6" fill="#000"/>
<line x1="347.3" y1="1026.7" x2="473.4" y2="1026.7" stroke="#626262" stroke-width="1.4"/>
<rect x="431.0" y="1021.5" width="10.4" height="10.4" fill="#a3a3a3"/>
<circle cx="436.2" cy="1026.7" r="2.6" fill="#000"/>
<line x1="405.5" y1="1070.9" x2="464.5" y2="1070.9" stroke="#626262" stroke-width="1.4"/>
<rect x="437.5" y="1065.7" width="10.4" height="10.4" fill="#a3a3a3"/>
<circle cx="442.7" cy="1070.9" r="2.6" fill="#000"/>
<line x1="397.4" y1="1114.6" x2="479" y2="1114.6" stroke="#626262" stroke-width="1.4"/>
<rect x="457.7" y="1109.3999999999999" width="10.4" height="10.4" fill="#a3a3a3"/>
<circle cx="462.9" cy="1114.6" r="2.6" fill="#000"/>
<line x1="373.2" y1="1158.5" x2="479.3" y2="1158.5" stroke="#626262" stroke-width="1.4"/>
<rect x="474.1" y="1153.3" width="10.4" height="10.4" fill="#a3a3a3"/>
<circle cx="479.3" cy="1158.5" r="2.6" fill="#000"/>
<line x1="455.6" y1="1201.6" x2="479.3" y2="1201.6" stroke="#626262" stroke-width="1.4"/>
<rect x="474.1" y="1196.3999999999999" width="10.4" height="10.4" fill="#a3a3a3"/>
<circle cx="479.3" cy="1201.6" r="2.6" fill="#000"/>
<line x1="300" y1="1245.9" x2="479.3" y2="1245.9" stroke="#626262" stroke-width="1.4"/>
<rect x="474.1" y="1240.7" width="10.4" height="10.4" fill="#a3a3a3"/>
<circle cx="479.3" cy="1245.9" r="2.6" fill="#000"/>
<line x1="399.9" y1="1289.6" x2="479.3" y2="1289.6" stroke="#626262" stroke-width="1.4"/>
<rect x="474.1" y="1284.3999999999999" width="10.4" height="10.4" fill="#a3a3a3"/>
<circle cx="479.3" cy="1289.6" r="2.6" fill="#000"/>
<line x1="450" y1="1333.6" x2="479.3" y2="1333.6" stroke="#626262" stroke-width="1.4"/>
<rect x="474.1" y="1328.3999999999999" width="10.4" height="10.4" fill="#a3a3a3"/>
<circle cx="479.3" cy="1333.6" r="2.6" fill="#000"/>
<path d="M434.9 1421.1 L464.5 1412.4 L475.5 1421.1 L464.5 1429.8 Z" fill="none" stroke="#111" stroke-width="1.8" stroke-linejoin="miter"/>
<polyline points="288.4,838 288.4,1521.5 491.3,1521.5 491.3,838" fill="none" stroke="#3a3a3a" stroke-width="1.85"/>
<line x1="299.5" y1="1521.5" x2="299.5" y2="1530.6" stroke="#444" stroke-width="1.8"/>
<text x="299.5" y="1543" font-size="9" font-weight="bold" text-anchor="middle" fill="#333" textLength="12" lengthAdjust="spacingAndGlyphs">0.5</text>
<line x1="479.5" y1="1521.5" x2="479.5" y2="1530.6" stroke="#444" stroke-width="1.8"/>
<text x="479.5" y="1543" font-size="9" font-weight="bold" text-anchor="middle" fill="#333" textLength="12" lengthAdjust="spacingAndGlyphs">1.0</text>
<text x="390.5" y="1558.5" font-size="14" text-anchor="middle" fill="#333">Sensitivity</text>
<text x="269.20000000000005" y="858.5" font-size="14" text-anchor="end" fill="#333">Study ID</text>
<text x="510" y="858.3" font-size="14" fill="#333">Sensitivity (95% CI)</text>
<rect x="784.2" y="838" width="204.0999999999999" height="683.5" fill="#fff"/>
<line x1="785.2" y1="851.5" x2="987.3" y2="851.5" stroke="#e2eaec" stroke-width="1.5"/>
<line x1="785.2" y1="939.4" x2="987.3" y2="939.4" stroke="#e2eaec" stroke-width="1.5"/>
<line x1="785.2" y1="982.7" x2="987.3" y2="982.7" stroke="#e2eaec" stroke-width="1.5"/>
<line x1="785.2" y1="1026.7" x2="987.3" y2="1026.7" stroke="#e2eaec" stroke-width="1.5"/>
<line x1="785.2" y1="1070.9" x2="987.3" y2="1070.9" stroke="#e2eaec" stroke-width="1.5"/>
<line x1="785.2" y1="1114.6" x2="987.3" y2="1114.6" stroke="#e2eaec" stroke-width="1.5"/>
<line x1="785.2" y1="1158.5" x2="987.3" y2="1158.5" stroke="#e2eaec" stroke-width="1.5"/>
<line x1="785.2" y1="1201.6" x2="987.3" y2="1201.6" stroke="#e2eaec" stroke-width="1.5"/>
<line x1="785.2" y1="1245.9" x2="987.3" y2="1245.9" stroke="#e2eaec" stroke-width="1.5"/>
<line x1="785.2" y1="1289.6" x2="987.3" y2="1289.6" stroke="#e2eaec" stroke-width="1.5"/>
<line x1="785.2" y1="1333.6" x2="987.3" y2="1333.6" stroke="#e2eaec" stroke-width="1.5"/>
<line x1="785.2" y1="1421.1" x2="987.3" y2="1421.1" stroke="#e2eaec" stroke-width="1.5"/>
<line x1="785.2" y1="1465.4" x2="987.3" y2="1465.4" stroke="#e2eaec" stroke-width="1.5"/>
<line x1="785.2" y1="1509.2" x2="987.3" y2="1509.2" stroke="#e2eaec" stroke-width="1.5"/>
<line x1="969.9" y1="842" x2="969.9" y2="1521" stroke="#c06c40" stroke-width="2.4" stroke-dasharray="10.1 5.8" stroke-linecap="round" stroke-dashoffset="-1.4"/>
<line x1="969.9" y1="1399.7" x2="969.9" y2="1441.7" stroke="#c06c40" stroke-width="2.4" stroke-linecap="round"/>
<line x1="796.2" y1="939.4" x2="956.7" y2="939.4" stroke="#626262" stroke-width="1.4"/>
<rect x="888.0" y="934.1999999999999" width="10.4" height="10.4" fill="#a3a3a3"/>
<circle cx="893.2" cy="939.4" r="2.6" fill="#000"/>
<line x1="953" y1="982.7" x2="974" y2="982.7" stroke="#626262" stroke-width="1.4"/>
<rect x="964.0" y="977.5" width="10.4" height="10.4" fill="#a3a3a3"/>
<circle cx="969.2" cy="982.7" r="2.6" fill="#000"/>
<line x1="946.2" y1="1026.7" x2="973" y2="1026.7" stroke="#626262" stroke-width="1.4"/>
<rect x="960.0999999999999" y="1021.5" width="10.4" height="10.4" fill="#a3a3a3"/>
<circle cx="965.3" cy="1026.7" r="2.6" fill="#000"/>
<line x1="959.7" y1="1070.9" x2="974" y2="1070.9" stroke="#626262" stroke-width="1.4"/>
<rect x="964.0" y="1065.7" width="10.4" height="10.4" fill="#a3a3a3"/>
<circle cx="969.2" cy="1070.9" r="2.6" fill="#000"/>
<line x1="971" y1="1114.6" x2="975.5" y2="1114.6" stroke="#626262" stroke-width="1.4"/>
<rect x="970.3" y="1109.3999999999999" width="10.4" height="10.4" fill="#a3a3a3"/>
<circle cx="975.5" cy="1114.6" r="2.6" fill="#000"/>
<line x1="928.9" y1="1158.5" x2="975.5" y2="1158.5" stroke="#626262" stroke-width="1.4"/>
<rect x="970.3" y="1153.3" width="10.4" height="10.4" fill="#a3a3a3"/>
<circle cx="975.5" cy="1158.5" r="2.6" fill="#000"/>
<line x1="956.3" y1="1201.6" x2="975.5" y2="1201.6" stroke="#626262" stroke-width="1.4"/>
<rect x="970.3" y="1196.3999999999999" width="10.4" height="10.4" fill="#a3a3a3"/>
<circle cx="975.5" cy="1201.6" r="2.6" fill="#000"/>
<line x1="870.5" y1="1245.9" x2="975" y2="1245.9" stroke="#626262" stroke-width="1.4"/>
<rect x="947.4" y="1240.7" width="10.4" height="10.4" fill="#a3a3a3"/>
<circle cx="952.6" cy="1245.9" r="2.6" fill="#000"/>
<line x1="870.5" y1="1289.6" x2="975" y2="1289.6" stroke="#626262" stroke-width="1.4"/>
<rect x="947.4" y="1284.3999999999999" width="10.4" height="10.4" fill="#a3a3a3"/>
<circle cx="952.6" cy="1289.6" r="2.6" fill="#000"/>
<line x1="890.8" y1="1333.6" x2="968.2" y2="1333.6" stroke="#626262" stroke-width="1.4"/>
<rect x="937.5999999999999" y="1328.3999999999999" width="10.4" height="10.4" fill="#a3a3a3"/>
<circle cx="942.8" cy="1333.6" r="2.6" fill="#000"/>
<path d="M956 1421.1 L969.5 1412.4 L974.6 1421.1 L969.5 1429.8 Z" fill="none" stroke="#111" stroke-width="1.8" stroke-linejoin="miter"/>
<polyline points="784.2,838 784.2,1521.5 988.3,1521.5 988.3,838" fill="none" stroke="#3a3a3a" stroke-width="1.85"/>
<line x1="796.4" y1="1521.5" x2="796.4" y2="1530.6" stroke="#444" stroke-width="1.8"/>
<text x="796.4" y="1543" font-size="9" font-weight="bold" text-anchor="middle" fill="#333" textLength="12" lengthAdjust="spacingAndGlyphs">0.3</text>
<line x1="975.8" y1="1521.5" x2="975.8" y2="1530.6" stroke="#444" stroke-width="1.8"/>
<text x="975.8" y="1543" font-size="9" font-weight="bold" text-anchor="middle" fill="#333" textLength="12" lengthAdjust="spacingAndGlyphs">1.0</text>
<text x="884.6" y="1558.5" font-size="14" text-anchor="middle" fill="#333">Specificity</text>
<text x="767.5" y="858.5" font-size="14" text-anchor="end" fill="#333">Study ID</text>
<text x="1007" y="858.3" font-size="14" fill="#333">Specificity (95% CI)</text>
<text x="270.6" y="943.6" font-size="10" font-weight="bold" fill="#3a3a3a" text-anchor="end" textLength="106.8" lengthAdjust="spacingAndGlyphs">Conde-Moreno et al (2016)</text>
<text x="767.3" y="943.6" font-size="10" font-weight="bold" fill="#3a3a3a" text-anchor="end" textLength="106.8" lengthAdjust="spacingAndGlyphs">Conde-Moreno et al (2016)</text>
<text x="511" y="943.6" font-size="10" font-weight="bold" fill="#3a3a3a" text-anchor="start" textLength="67" lengthAdjust="spacingAndGlyphs">0.72 (0.51 - 0.88 )</text>
<text x="1007.8" y="943.6" font-size="10" font-weight="bold" fill="#3a3a3a" text-anchor="start" textLength="67" lengthAdjust="spacingAndGlyphs">0.70 (0.35 - 0.93 )</text>
<text x="270.6" y="986.9000000000001" font-size="10" font-weight="bold" fill="#3a3a3a" text-anchor="end" textLength="102" lengthAdjust="spacingAndGlyphs">Venkitaraman et al (2009)</text>
<text x="767.3" y="986.9000000000001" font-size="10" font-weight="bold" fill="#3a3a3a" text-anchor="end" textLength="102" lengthAdjust="spacingAndGlyphs">Venkitaraman et al (2009)</text>
<text x="511" y="986.9000000000001" font-size="10" font-weight="bold" fill="#3a3a3a" text-anchor="start" textLength="67" lengthAdjust="spacingAndGlyphs">0.86 (0.57 - 0.98)</text>
<text x="1007.8" y="986.9000000000001" font-size="10" font-weight="bold" fill="#3a3a3a" text-anchor="start" textLength="67" lengthAdjust="spacingAndGlyphs">0.98 (0.92 - 1.00 )</text>
<text x="270.6" y="1030.9" font-size="10" font-weight="bold" fill="#3a3a3a" text-anchor="end" textLength="80" lengthAdjust="spacingAndGlyphs">Kitajima  et al (2014)</text>
<text x="767.3" y="1030.9" font-size="10" font-weight="bold" fill="#3a3a3a" text-anchor="end" textLength="80" lengthAdjust="spacingAndGlyphs">Kitajima  et al (2014)</text>
<text x="511" y="1030.9" font-size="10" font-weight="bold" fill="#3a3a3a" text-anchor="start" textLength="67" lengthAdjust="spacingAndGlyphs">0.88 (0.62 - 0.98)</text>
<text x="1007.8" y="1030.9" font-size="10" font-weight="bold" fill="#3a3a3a" text-anchor="start" textLength="67" lengthAdjust="spacingAndGlyphs">0.96 (0.89 - 0.99 )</text>
<text x="270.6" y="1075.1000000000001" font-size="10" font-weight="bold" fill="#3a3a3a" text-anchor="end" textLength="78" lengthAdjust="spacingAndGlyphs">Vargas  et al (2016)</text>
<text x="767.3" y="1075.1000000000001" font-size="10" font-weight="bold" fill="#3a3a3a" text-anchor="end" textLength="78" lengthAdjust="spacingAndGlyphs">Vargas  et al (2016)</text>
<text x="511" y="1075.1000000000001" font-size="10" font-weight="bold" fill="#3a3a3a" text-anchor="start" textLength="67" lengthAdjust="spacingAndGlyphs">0.89 (0.78 - 0.96)</text>
<text x="1007.8" y="1075.1000000000001" font-size="10" font-weight="bold" fill="#3a3a3a" text-anchor="start" textLength="67" lengthAdjust="spacingAndGlyphs">0.98 (0.94 - 0.99 )</text>
<text x="270.6" y="1118.8" font-size="10" font-weight="bold" fill="#3a3a3a" text-anchor="end" textLength="68" lengthAdjust="spacingAndGlyphs">Woo  et al (2016)</text>
<text x="767.3" y="1118.8" font-size="10" font-weight="bold" fill="#3a3a3a" text-anchor="end" textLength="68" lengthAdjust="spacingAndGlyphs">Woo  et al (2016)</text>
<text x="511" y="1118.8" font-size="10" font-weight="bold" fill="#3a3a3a" text-anchor="start" textLength="67" lengthAdjust="spacingAndGlyphs">0.95 (0.76 - 1.00)</text>
<text x="1007.8" y="1118.8" font-size="10" font-weight="bold" fill="#3a3a3a" text-anchor="start" textLength="67" lengthAdjust="spacingAndGlyphs">1.00 (0.99 - 1.00 )</text>
<text x="270.6" y="1162.7" font-size="10" font-weight="bold" fill="#3a3a3a" text-anchor="end" textLength="84" lengthAdjust="spacingAndGlyphs">Pasoglou et al (2015)</text>
<text x="767.3" y="1162.7" font-size="10" font-weight="bold" fill="#3a3a3a" text-anchor="end" textLength="84" lengthAdjust="spacingAndGlyphs">Pasoglou et al (2015)</text>
<text x="511" y="1162.7" font-size="10" font-weight="bold" fill="#3a3a3a" text-anchor="start" textLength="67" lengthAdjust="spacingAndGlyphs">1.00 (0.69 - 1.00)</text>
<text x="1007.8" y="1162.7" font-size="10" font-weight="bold" fill="#3a3a3a" text-anchor="start" textLength="67" lengthAdjust="spacingAndGlyphs">1.00 (0.83 - 1.00 )</text>
<text x="270.6" y="1205.8" font-size="10" font-weight="bold" fill="#3a3a3a" text-anchor="end" textLength="84" lengthAdjust="spacingAndGlyphs">Lecouvet  et al (2012)</text>
<text x="767.3" y="1205.8" font-size="10" font-weight="bold" fill="#3a3a3a" text-anchor="end" textLength="84" lengthAdjust="spacingAndGlyphs">Lecouvet  et al (2012)</text>
<text x="511" y="1205.8" font-size="10" font-weight="bold" fill="#3a3a3a" text-anchor="start" textLength="67" lengthAdjust="spacingAndGlyphs">1.00 (0.93 - 1.00)</text>
<text x="1007.8" y="1205.8" font-size="10" font-weight="bold" fill="#3a3a3a" text-anchor="start" textLength="67" lengthAdjust="spacingAndGlyphs">1.00 (0.93 - 1.00 )</text>
<text x="270.6" y="1250.1000000000001" font-size="10" font-weight="bold" fill="#3a3a3a" text-anchor="end" textLength="77.5" lengthAdjust="spacingAndGlyphs">Mosavi  et al (2012)</text>
<text x="767.3" y="1250.1000000000001" font-size="10" font-weight="bold" fill="#3a3a3a" text-anchor="end" textLength="77.5" lengthAdjust="spacingAndGlyphs">Mosavi  et al (2012)</text>
<text x="511" y="1250.1000000000001" font-size="10" font-weight="bold" fill="#3a3a3a" text-anchor="start" textLength="67" lengthAdjust="spacingAndGlyphs">1.00 (0.48 - 1.00)</text>
<text x="1007.8" y="1250.1000000000001" font-size="10" font-weight="bold" fill="#3a3a3a" text-anchor="start" textLength="67" lengthAdjust="spacingAndGlyphs">0.92 (0.62 - 1.00 )</text>
<text x="270.6" y="1293.8" font-size="10" font-weight="bold" fill="#3a3a3a" text-anchor="end" textLength="83.5" lengthAdjust="spacingAndGlyphs">Piccardo  et al (2014)</text>
<text x="767.3" y="1293.8" font-size="10" font-weight="bold" fill="#3a3a3a" text-anchor="end" textLength="83.5" lengthAdjust="spacingAndGlyphs">Piccardo  et al (2014)</text>
<text x="511" y="1293.8" font-size="10" font-weight="bold" fill="#3a3a3a" text-anchor="start" textLength="67" lengthAdjust="spacingAndGlyphs">1.00 (0.77 - 1.00)</text>
<text x="1007.8" y="1293.8" font-size="10" font-weight="bold" fill="#3a3a3a" text-anchor="start" textLength="67" lengthAdjust="spacingAndGlyphs">0.92 (0.62 - 1.00 )</text>
<text x="270.6" y="1337.8" font-size="10" font-weight="bold" fill="#3a3a3a" text-anchor="end" textLength="84" lengthAdjust="spacingAndGlyphs">Lecouvet  et al (2007)</text>
<text x="767.3" y="1337.8" font-size="10" font-weight="bold" fill="#3a3a3a" text-anchor="end" textLength="84" lengthAdjust="spacingAndGlyphs">Lecouvet  et al (2007)</text>
<text x="511" y="1337.8" font-size="10" font-weight="bold" fill="#3a3a3a" text-anchor="start" textLength="67" lengthAdjust="spacingAndGlyphs">1.00 (0.91 - 1.00)</text>
<text x="1007.8" y="1337.8" font-size="10" font-weight="bold" fill="#3a3a3a" text-anchor="start" textLength="67" lengthAdjust="spacingAndGlyphs">0.88 (0.69 - 0.97 )</text>
<text x="267.3" y="1425.2" font-size="10" font-weight="bold" fill="#3a3a3a" text-anchor="end" textLength="47.3" lengthAdjust="spacingAndGlyphs">COMBINED</text>
<text x="764" y="1425.2" font-size="10" font-weight="bold" fill="#3a3a3a" text-anchor="end" textLength="47.3" lengthAdjust="spacingAndGlyphs">COMBINED</text>
<text x="513.5" y="1425.2" font-size="10" font-weight="bold" fill="#3a3a3a" text-anchor="start" textLength="66.5" lengthAdjust="spacingAndGlyphs">0.96 (0.87 - 0.99)</text>
<text x="1009.7" y="1425.2" font-size="10" font-weight="bold" fill="#3a3a3a" text-anchor="start" textLength="66.5" lengthAdjust="spacingAndGlyphs">0.98 (0.93 - 0.99 )</text>
<text x="510.8" y="1469.3" font-size="10" font-weight="bold" fill="#3a3a3a" text-anchor="start" textLength="118" lengthAdjust="spacingAndGlyphs">Q = 48.49, df = 9.00, p =  0.00</text>
<text x="1007.8" y="1469.3" font-size="10" font-weight="bold" fill="#3a3a3a" text-anchor="start" textLength="118" lengthAdjust="spacingAndGlyphs">Q = 63.61, df = 9.00, p =  0.00</text>
<text x="510.8" y="1513.3" font-size="10" font-weight="bold" fill="#3a3a3a" text-anchor="start" textLength="99" lengthAdjust="spacingAndGlyphs">I2 = 81.44 (70.74 - 92.14)</text>
<text x="1007.8" y="1513.3" font-size="10" font-weight="bold" fill="#3a3a3a" text-anchor="start" textLength="99" lengthAdjust="spacingAndGlyphs">I2 = 85.85 (78.27 - 93.43)</text>
</svg></body></html>
